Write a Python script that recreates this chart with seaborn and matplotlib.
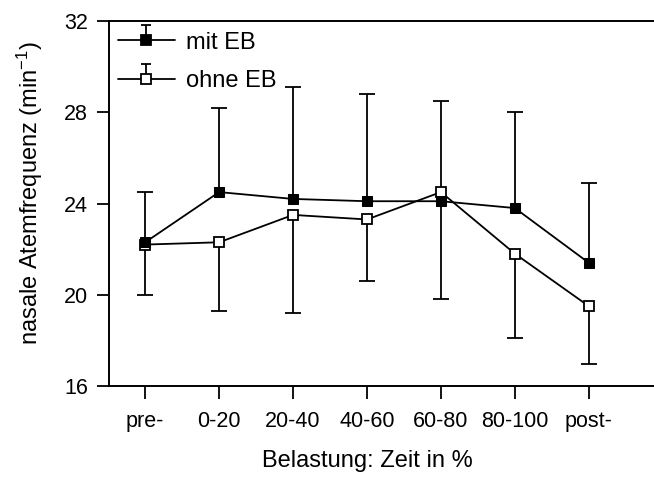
import numpy as np
import pandas as pd
import matplotlib
matplotlib.use("Agg")
import matplotlib.pyplot as plt
from matplotlib.lines import Line2D
from matplotlib.path import Path
from matplotlib.legend_handler import HandlerTuple
import seaborn as sns

# Data
phases = ["pre-", "0-20", "20-40", "40-60", "60-80", "80-100", "post-"]
mit_mean = [22.3, 24.5, 24.2, 24.1, 24.1, 23.8, 21.4]
mit_sd = [2.2, 3.7, 4.9, 4.7, 4.4, 4.2, 3.5]      # drawn upwards
ohne_mean = [22.2, 22.3, 23.5, 23.3, 24.5, 21.8, 19.5]
ohne_sd = [2.2, 3.0, 4.3, 2.7, 4.7, 3.7, 2.55]    # drawn downwards

sns.set_theme(style="ticks")
plt.rcParams["font.family"] = ["Liberation Sans", "DejaVu Sans"]
plt.rcParams["mathtext.default"] = "regular"
plt.rcParams["text.color"] = "black"
plt.rcParams["axes.labelcolor"] = "black"

df = pd.DataFrame({
    "pos": list(range(len(phases))) * 2,
    "wert": mit_mean + ohne_mean,
    "gruppe": ["mit EB"] * len(phases) + ["ohne EB"] * len(phases),
})

fig = plt.figure(figsize=(6.54, 4.78), dpi=100)
ax = fig.add_axes([109 / 654, 1 - 386 / 478, 550 / 654, 365 / 478])

lw = 1.3
pos = np.arange(len(phases))

# error bars: mit EB up, ohne EB down
for mean, sd, up in [(mit_mean, mit_sd, True), (ohne_mean, ohne_sd, False)]:
    zeros = np.zeros(len(sd))
    yerr = [zeros, sd] if up else [sd, zeros]
    cont = ax.errorbar(pos, mean, yerr=yerr, fmt="none", ecolor="black",
                       elinewidth=lw, capsize=6, capthick=lw, zorder=1)
    for cap in cont[1]:
        if np.allclose(cap.get_ydata(), mean):
            cap.set_visible(False)

sub = df[df["gruppe"] == "mit EB"]
sns.lineplot(data=sub, x="pos", y="wert", color="black", marker="s",
             markersize=6.5, markerfacecolor="black", markeredgecolor="black",
             linewidth=lw, ax=ax, zorder=3)
sub = df[df["gruppe"] == "ohne EB"]
sns.lineplot(data=sub, x="pos", y="wert", color="black", marker="s",
             markersize=6.5, markerfacecolor="white", markeredgecolor="black",
             markeredgewidth=lw, linewidth=lw, ax=ax, zorder=2)

ax.set_xlim(-0.49, 6.95)
ax.set_ylim(16, 32)
ax.set_yticks([16, 20, 24, 28, 32])
ax.set_xticks(pos)
ax.set_xticklabels(phases)
ax.tick_params(axis="both", direction="out", length=9, width=lw,
               labelsize=15.5, colors="black", pad=6)
ax.tick_params(axis="x", pad=9)
for s in ax.spines.values():
    s.set_linewidth(1.4)
    s.set_color("black")

ax.set_xlabel("Belastung: Zeit in %", fontsize=17, color="black")
ax.set_ylabel("nasale Atemfrequenz (min$^{-1}$)", fontsize=17, color="black")
ax.xaxis.set_label_coords(0.469, -0.175)
ax.yaxis.set_label_coords(-0.116, 0.53)

# legend with upward error bar cap on the handle
cap_path = Path([(0, 0), (0, 1), (-0.35, 1), (0.35, 1)],
                [Path.MOVETO, Path.LINETO, Path.MOVETO, Path.LINETO])
handles = []
for face in ["black", "white"]:
    bar = Line2D([], [], linestyle="none", marker=cap_path, markersize=21,
                 markeredgecolor="black", markerfacecolor="none", markeredgewidth=lw)
    mk = Line2D([], [], color="black", linewidth=lw, marker="s", markersize=6.5,
                markerfacecolor=face, markeredgecolor="black", markeredgewidth=lw)
    handles.append((bar, mk))
leg = ax.legend(handles, ["mit EB", "ohne EB"], handler_map={tuple: HandlerTuple(ndivide=1)},
                loc="upper left", bbox_to_anchor=(9 / 550, 0.971), frameon=False,
                fontsize=17, handlelength=2.4, handletextpad=0.5, labelspacing=0.7,
                borderpad=0, borderaxespad=0)
for t in leg.get_texts():
    t.set_color("black")

fig.savefig("out.png", dpi=100)
